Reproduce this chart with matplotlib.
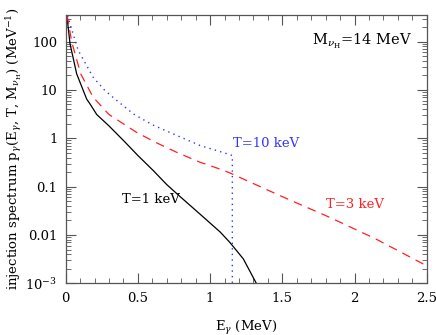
import numpy as np
import matplotlib
matplotlib.use('Agg')
from matplotlib import pyplot as plt
from matplotlib.ticker import FixedLocator, FuncFormatter, MultipleLocator, LogLocator

matplotlib.rcParams['font.family'] = 'DejaVu Serif'
matplotlib.rcParams['mathtext.fontset'] = 'dejavuserif'
matplotlib.rcParams['font.size'] = 9.5

#%% Data
E_1keV = [0.008, 0.03, 0.076, 0.145, 0.168, 0.215, 0.30, 0.40, 0.50, 0.607, 0.70, 0.79,
          0.93, 1.07, 1.137, 1.23, 1.32]
p_1keV = [350, 90, 21.5, 6.5, 5.15, 3.1, 1.8, 0.9, 0.44, 0.214, 0.11, 0.063,
          0.027, 0.0115, 0.0070, 0.0032, 0.001]

E_3keV = [0.01, 0.042, 0.104, 0.19, 0.30, 0.49, 0.62, 0.77, 0.93, 1.09, 1.14,
          1.5, 1.83, 2.15, 2.5]
p_3keV = [350, 97.6, 21.5, 7.07, 3.1, 1.33, 0.83, 0.51, 0.32, 0.219, 0.19,
          0.062, 0.023, 0.0082, 0.0023]

E_10keV = [0.015, 0.03, 0.087, 0.19, 0.272, 0.341, 0.468, 0.60, 0.745, 0.93,
           1.07, 1.154, 1.154]
p_10keV = [350, 232, 65.5, 18.3, 9.7, 6.5, 3.2, 1.9, 1.23, 0.71,
           0.53, 0.44, 1e-3]

ytick_vals = [1e-3, 0.01, 0.1, 1, 10, 100]
ytick_labels = ['$10^{-3}$', '0.01', '0.1', '1', '10', '100']
xtick_vals = [0, 0.5, 1, 1.5, 2, 2.5]
xtick_labels = ['0', '0.5', '1', '1.5', '2', '2.5']

#%% Plot
fig = plt.figure(figsize=(4.36, 3.35), dpi=100)
ax = fig.add_axes([65.7/436, 1-283.3/335, (426.7-65.7)/436, (283.3-15.3)/335])

ax.plot(E_1keV, p_1keV, '-', color='k', lw=0.9)
ax.plot(E_3keV, p_3keV, '--', color='#ff2020', lw=0.9, dashes=(7, 5))
ax.plot(E_10keV, p_10keV, ':', color='#3333ff', lw=1.0, dashes=(1, 3))

ax.set_yscale('log')
ax.set_xlim(0, 2.5)
ax.set_ylim(1e-3, 350)

ax.xaxis.set_major_locator(FixedLocator(xtick_vals))
ax.set_xticklabels(xtick_labels)
ax.xaxis.set_minor_locator(MultipleLocator(0.1))
ax.yaxis.set_major_locator(FixedLocator(ytick_vals))
ax.set_yticklabels(ytick_labels)
ax.yaxis.set_minor_locator(LogLocator(base=10, subs=np.arange(2, 10)))
ax.yaxis.set_minor_formatter(FuncFormatter(lambda v, p: ''))

ax.tick_params(which='both', direction='in', top=True, right=True, color='#555555')
ax.tick_params(which='major', length=7, width=0.8, pad=6)
ax.tick_params(which='minor', length=3.5, width=0.6)
for s in ax.spines.values():
    s.set_color('#555555')
    s.set_linewidth(0.9)

ax.set_xlabel(r'E$_\gamma$ (MeV)', labelpad=10)
ax.set_ylabel(r'injection spectrum p$_\gamma$(E$_\gamma$, T, M$_{\nu_{\rm H}}$) (MeV$^{-1}$)', labelpad=1)

ax.text(0.96, 0.904, r'M$_{\nu_{\rm H}}$=14 MeV', transform=ax.transAxes, ha='right', va='center', fontsize=10.5)
ax.text(1.16, 0.78, 'T=10 keV', color='#3333ff', ha='left', va='center')
ax.text(0.39, 0.054, 'T=1 keV', color='k', ha='left', va='center')
ax.text(1.8, 0.042, 'T=3 keV', color='#ff2020', ha='left', va='center')

plt.savefig('out.png', dpi=100)
plt.close()
